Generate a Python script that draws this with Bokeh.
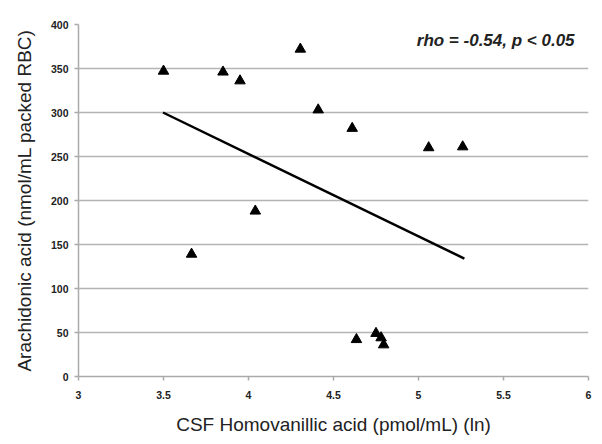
from bokeh.plotting import figure
from bokeh.models import Range1d, FixedTicker, Label
from bokeh.embed import file_html
from bokeh.resources import INLINE

hva = [3.50, 3.665, 3.85, 3.95, 4.04, 4.305, 4.41, 4.61, 5.06, 5.26, 4.635, 4.75, 4.78, 4.795]
aa = [347, 139, 346, 336, 188, 372, 303, 282, 260, 261, 42, 49, 44, 36]
trend_x = [3.497, 5.27]
trend_y = [300, 134]
x_ticks = [3, 3.5, 4, 4.5, 5, 5.5, 6]
y_ticks = [0, 50, 100, 150, 200, 250, 300, 350, 400]

p = figure(width=602, height=444, output_backend="svg", toolbar_location=None,
           x_range=Range1d(3, 6), y_range=Range1d(0, 400),
           min_border_left=78, min_border_right=14, min_border_top=24, min_border_bottom=68)
p.outline_line_color = None
p.background_fill_color = "white"

p.line(trend_x, trend_y, line_color="black", line_width=2.5)
p.scatter(hva, aa, marker="triangle", size=10.5, fill_color="black", line_color="black")

p.xaxis.ticker = FixedTicker(ticks=x_ticks)
p.yaxis.ticker = FixedTicker(ticks=y_ticks)
p.xaxis.axis_label = "CSF Homovanillic acid (pmol/mL) (ln)"
p.yaxis.axis_label = "Arachidonic acid (nmol/mL packed RBC)"
for ax in (p.xaxis[0], p.yaxis[0]):
    ax.axis_label_text_font = "Liberation Sans"
    ax.axis_label_text_font_style = "normal"
    ax.axis_label_text_font_size = "19px"
    ax.axis_label_text_color = "#222222"
    ax.major_label_text_font = "Liberation Sans"
    ax.major_label_text_font_style = "bold"
    ax.major_label_text_font_size = "10.5px"
    ax.major_label_text_color = "#222222"
    ax.axis_line_color = "#aaaaaa"
    ax.axis_line_width = 1.5
    ax.major_tick_line_color = "#aaaaaa"
    ax.major_tick_line_width = 1.5
    ax.major_tick_out = 4
    ax.major_tick_in = 0
    ax.minor_tick_line_color = None
p.xaxis.major_label_standoff = 10
p.xaxis.axis_label_standoff = 12
p.yaxis.major_label_standoff = 6
p.yaxis.axis_label_standoff = 13

p.xgrid.grid_line_color = None
p.ygrid.grid_line_color = "#b4b4b4"
p.ygrid.grid_line_width = 1.5

p.add_layout(Label(x=5.918, y=382, text="rho = -0.54, p < 0.05", text_align="right",
                   text_baseline="middle", text_font="Liberation Sans",
                   text_font_style="bold italic", text_font_size="17px", text_color="#222222"))

open("out.html", "w").write(file_html(p, INLINE))
